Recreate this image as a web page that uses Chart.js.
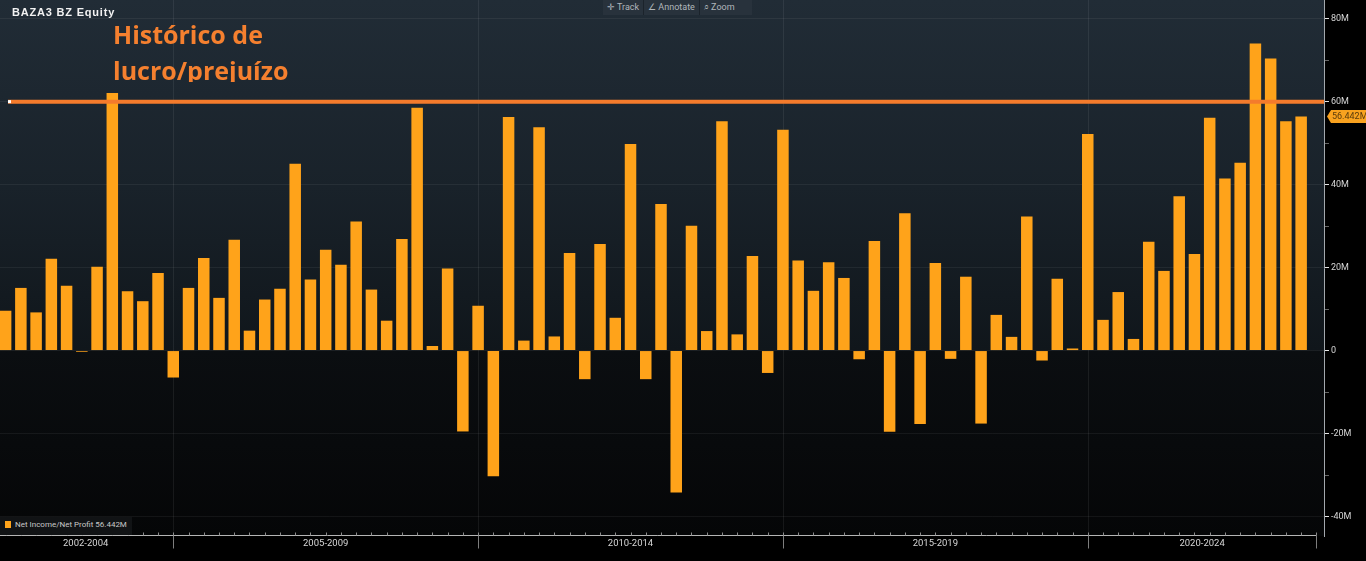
<!DOCTYPE html>
<html>
<head>
<meta charset="utf-8">
<script src="https://cdn.jsdelivr.net/npm/chart.js@4.4.1/dist/chart.umd.min.js"></script>
<style>
  html, body { margin: 0; padding: 0; background: #000; width: 1366px; height: 561px; overflow: hidden; }
  #wrap { position: absolute; left: -2px; top: 0; width: 1368px; height: 561px; }
  #title { position: absolute; left: 12px; top: 6px; font: bold 11px "Liberation Sans", Arial, sans-serif; letter-spacing: 0.8px; color: #f2f2f2; }
  #note { position: absolute; left: 113px; top: 17px; height: 65px; overflow: hidden; font: bold 25px/35.7px "Open Sans", sans-serif; color: #f5802f; }
  #toolbar { position: absolute; left: 603px; top: 0; width: 149px; height: 15px; background: #28323c; font: 9px Roboto, sans-serif; color: #b0b6bb; display: flex; align-items: center; }
  #toolbar span { padding: 0 4px; border-right: 1px solid #1b232b; line-height: 15px; }
  #toolbar span:last-child { border-right: none; }
  #legend { position: absolute; left: 0; top: 517px; width: 132px; height: 18px; background: #111315; font: 8px Roboto, sans-serif; color: #c8c8c8; }
  #legend i { position: absolute; left: 5px; top: 4px; width: 6px; height: 7px; background: #ffa31a; }
  #legend b { position: absolute; left: 15px; top: 3px; font-weight: normal; white-space: nowrap; }
</style>
</head>
<body>
<div id="wrap"><canvas id="baza" width="1368" height="561"></canvas></div>
<div id="title">BAZA3 BZ Equity</div>
<div id="note">Histórico de<br>lucro/prejuízo</div>
<div id="toolbar"><span>&#x271B; Track</span><span>&#x2220; Annotate</span><span>&#x2315; Zoom</span></div>
<div id="legend"><i></i><b id="legendText"></b></div>
<script>
// Quarterly net income, BRL millions
const quarters = [
  '1Q02', '2Q02', '3Q02', '4Q02', '1Q03', '2Q03', '3Q03', '4Q03', '1Q04', '2Q04', '3Q04', '4Q04',
  '1Q05', '2Q05', '3Q05', '4Q05', '1Q06', '2Q06', '3Q06', '4Q06', '1Q07', '2Q07', '3Q07', '4Q07',
  '1Q08', '2Q08', '3Q08', '4Q08', '1Q09', '2Q09', '3Q09', '4Q09', '1Q10', '2Q10', '3Q10', '4Q10',
  '1Q11', '2Q11', '3Q11', '4Q11', '1Q12', '2Q12', '3Q12', '4Q12', '1Q13', '2Q13', '3Q13', '4Q13',
  '1Q14', '2Q14', '3Q14', '4Q14', '1Q15', '2Q15', '3Q15', '4Q15', '1Q16', '2Q16', '3Q16', '4Q16',
  '1Q17', '2Q17', '3Q17', '4Q17', '1Q18', '2Q18', '3Q18', '4Q18', '1Q19', '2Q19', '3Q19', '4Q19',
  '1Q20', '2Q20', '3Q20', '4Q20', '1Q21', '2Q21', '3Q21', '4Q21', '1Q22', '2Q22', '3Q22', '4Q22',
  '1Q23', '2Q23', '3Q23'
];
const netIncome = [
  9.6, 15.1, 9.2, 22.1, 15.6, -0.3, 20.2, 62.1, 14.3, 11.9, 18.7, -6.5,
  15.1, 22.3, 12.7, 26.7, 4.8, 12.3, 14.9, 45.0, 17.1, 24.3, 20.7, 31.1,
  14.7, 7.2, 26.9, 58.5, 1.1, 19.8, -19.5, 10.8, -30.3, 56.3, 2.4, 53.8,
  3.4, 23.5, -6.9, 25.7, 7.9, 49.8, -6.9, 35.3, -34.2, 30.1, 4.7, 55.3,
  3.9, 22.8, -5.4, 53.2, 21.7, 14.4, 21.3, 17.5, -2.1, 26.4, -19.6, 33.1,
  -17.7, 21.1, -2.0, 17.8, -17.6, 8.6, 3.3, 32.3, -2.4, 17.3, 0.5, 52.2,
  7.4, 14.1, 2.8, 26.2, 19.2, 37.2, 23.3, 56.1, 41.5, 45.3, 74.0, 70.4,
  55.3, 56.442, null
];
const periods = ['2002-2004', '2005-2009', '2010-2014', '2015-2019', '2020-2024'];
const periodEnds = ['4Q04', '4Q09', '4Q14', '4Q19'];
const yTicks = [-40, -30, -20, -10, 0, 10, 20, 30, 40, 50, 60, 70, 80];
const yLabelled = [-40, -20, 0, 20, 40, 60, 80];
const refLine = 60;
const lastValue = 56.442;
const seriesName = 'Net Income/Net Profit';

document.getElementById('legendText').textContent = seriesName + ' ' + lastValue.toFixed(3) + 'M';

const BAR = '#ffa31a';

// Bloomberg-like frame: background, period dividers, x axis, reference line, last value badge
const frame = {
  id: 'frame',
  beforeDraw(chart) {
    const { ctx, chartArea: ca, width, height } = chart;
    const x = chart.scales.x;
    ctx.save();
    ctx.fillStyle = '#000';
    ctx.fillRect(0, 0, width, height);
    const g = ctx.createLinearGradient(0, ca.top, 0, ca.bottom);
    g.addColorStop(0, '#212c36');
    g.addColorStop(0.35, '#19222a');
    g.addColorStop(0.652, '#10161b');
    g.addColorStop(0.656, '#0b0e11');
    g.addColorStop(1, '#050607');
    ctx.fillStyle = g;
    ctx.fillRect(ca.left, ca.top, ca.right - ca.left, ca.bottom - ca.top);
    // faint vertical lines at period boundaries
    ctx.strokeStyle = 'rgba(255,255,255,0.07)';
    ctx.lineWidth = 1;
    periodEnds.forEach(q => {
      const px = Math.round(x.getPixelForValue(quarters.indexOf(q))) + 0.5;
      ctx.beginPath();
      ctx.moveTo(px, ca.top);
      ctx.lineTo(px, ca.bottom);
      ctx.stroke();
    });
    ctx.restore();
  },
  afterDatasetsDraw(chart) {
    const { ctx, chartArea: ca } = chart;
    const py = chart.scales.y.getPixelForValue(refLine);
    ctx.save();
    ctx.strokeStyle = '#f47b2c';
    ctx.lineWidth = 4;
    ctx.beginPath();
    ctx.moveTo(ca.left + 10, py);
    ctx.lineTo(ca.right, py);
    ctx.stroke();
    ctx.fillStyle = '#ffffff';
    ctx.fillRect(ca.left + 10, py - 1.5, 3, 3);
    ctx.restore();
  },
  afterDraw(chart) {
    const { ctx, chartArea: ca } = chart;
    const x = chart.scales.x, y = chart.scales.y;
    const lastIdx = quarters.length - 1;
    const endPx = x.getPixelForValue(lastIdx);
    const axisY = Math.round(ca.bottom) - 0.5;
    ctx.save();
    // x axis line and quarter ticks
    ctx.strokeStyle = '#b5b5b5';
    ctx.lineWidth = 1;
    ctx.beginPath();
    ctx.moveTo(ca.left, axisY);
    ctx.lineTo(endPx, axisY);
    ctx.stroke();
    ctx.strokeStyle = '#8c8c8c';
    quarters.forEach((q, i) => {
      const px = Math.round(x.getPixelForValue(i)) + 0.5;
      ctx.beginPath();
      ctx.moveTo(px, axisY - 3);
      ctx.lineTo(px, axisY);
      ctx.stroke();
    });
    // period dividers below the axis
    const bounds = periodEnds.map(q => x.getPixelForValue(quarters.indexOf(q)));
    ctx.strokeStyle = '#7d7d7d';
    bounds.concat([endPx]).forEach(b => {
      const px = Math.round(b) + 0.5;
      ctx.beginPath();
      ctx.moveTo(px, axisY);
      ctx.lineTo(px, axisY + 13);
      ctx.stroke();
    });
    // period labels centred between dividers
    ctx.fillStyle = '#d6d6d6';
    ctx.font = '9.5px Roboto, sans-serif';
    ctx.textAlign = 'center';
    ctx.textBaseline = 'middle';
    periods.forEach((p, i) => {
      const a = i === 0 ? ca.left : bounds[i - 1];
      const b = i < bounds.length ? bounds[i] : endPx;
      ctx.fillText(p, (a + b) / 2, axisY + 8);
    });
    // last value badge on the right axis
    const by = y.getPixelForValue(lastValue);
    const bx = ca.right + 3;
    ctx.fillStyle = '#f9a21f';
    ctx.beginPath();
    ctx.moveTo(bx, by);
    ctx.lineTo(bx + 4, by - 6.5);
    ctx.lineTo(bx + 40, by - 6.5);
    ctx.lineTo(bx + 40, by + 6.5);
    ctx.lineTo(bx + 4, by + 6.5);
    ctx.closePath();
    ctx.fill();
    ctx.fillStyle = '#5a3b0c';
    ctx.font = '9px Roboto, sans-serif';
    ctx.textAlign = 'left';
    ctx.fillText(lastValue.toFixed(3) + 'M', bx + 5, by + 0.5);
    ctx.restore();
  }
};

const ctx = document.getElementById('baza').getContext('2d');
new Chart(ctx, {
  type: 'bar',
  data: {
    labels: quarters,
    datasets: [{
      label: seriesName,
      data: netIncome,
      backgroundColor: BAR,
      borderWidth: 0,
      categoryPercentage: 1.0,
      barPercentage: 0.755
    }]
  },
  options: {
    responsive: false,
    animation: false,
    devicePixelRatio: 1,
    layout: { padding: 0 },
    plugins: {
      legend: { display: false },
      tooltip: { enabled: false }
    },
    scales: {
      x: {
        offset: true,
        grid: { display: false },
        border: { display: false },
        ticks: { display: false },
        afterFit: s => { s.height = 25; s.paddingLeft = 0; s.paddingRight = 0; }
      },
      y: {
        position: 'right',
        min: -44.7,
        max: 84.5,
        afterBuildTicks: s => { s.ticks = yTicks.map(v => ({ value: v })); },
        afterFit: s => { s.width = 42; s.paddingTop = 0; s.paddingBottom = 0; },
        ticks: {
          color: '#d6d6d6',
          font: { family: 'Roboto', size: 9 },
          padding: 2,
          autoSkip: false,
          callback: v => yLabelled.includes(v) ? (v === 0 ? '0' : v + 'M') : ''
        },
        grid: {
          tickLength: 5,
          color: c => (c.tick && yLabelled.includes(c.tick.value)) ? 'rgba(255,255,255,0.06)' : 'rgba(0,0,0,0)',
          tickColor: c => (c.tick && yLabelled.includes(c.tick.value)) ? '#e6e6e6' : '#666666'
        },
        border: { color: '#a3a8ad', width: 1 }
      }
    }
  },
  plugins: [frame]
});
</script>
</body>
</html>
